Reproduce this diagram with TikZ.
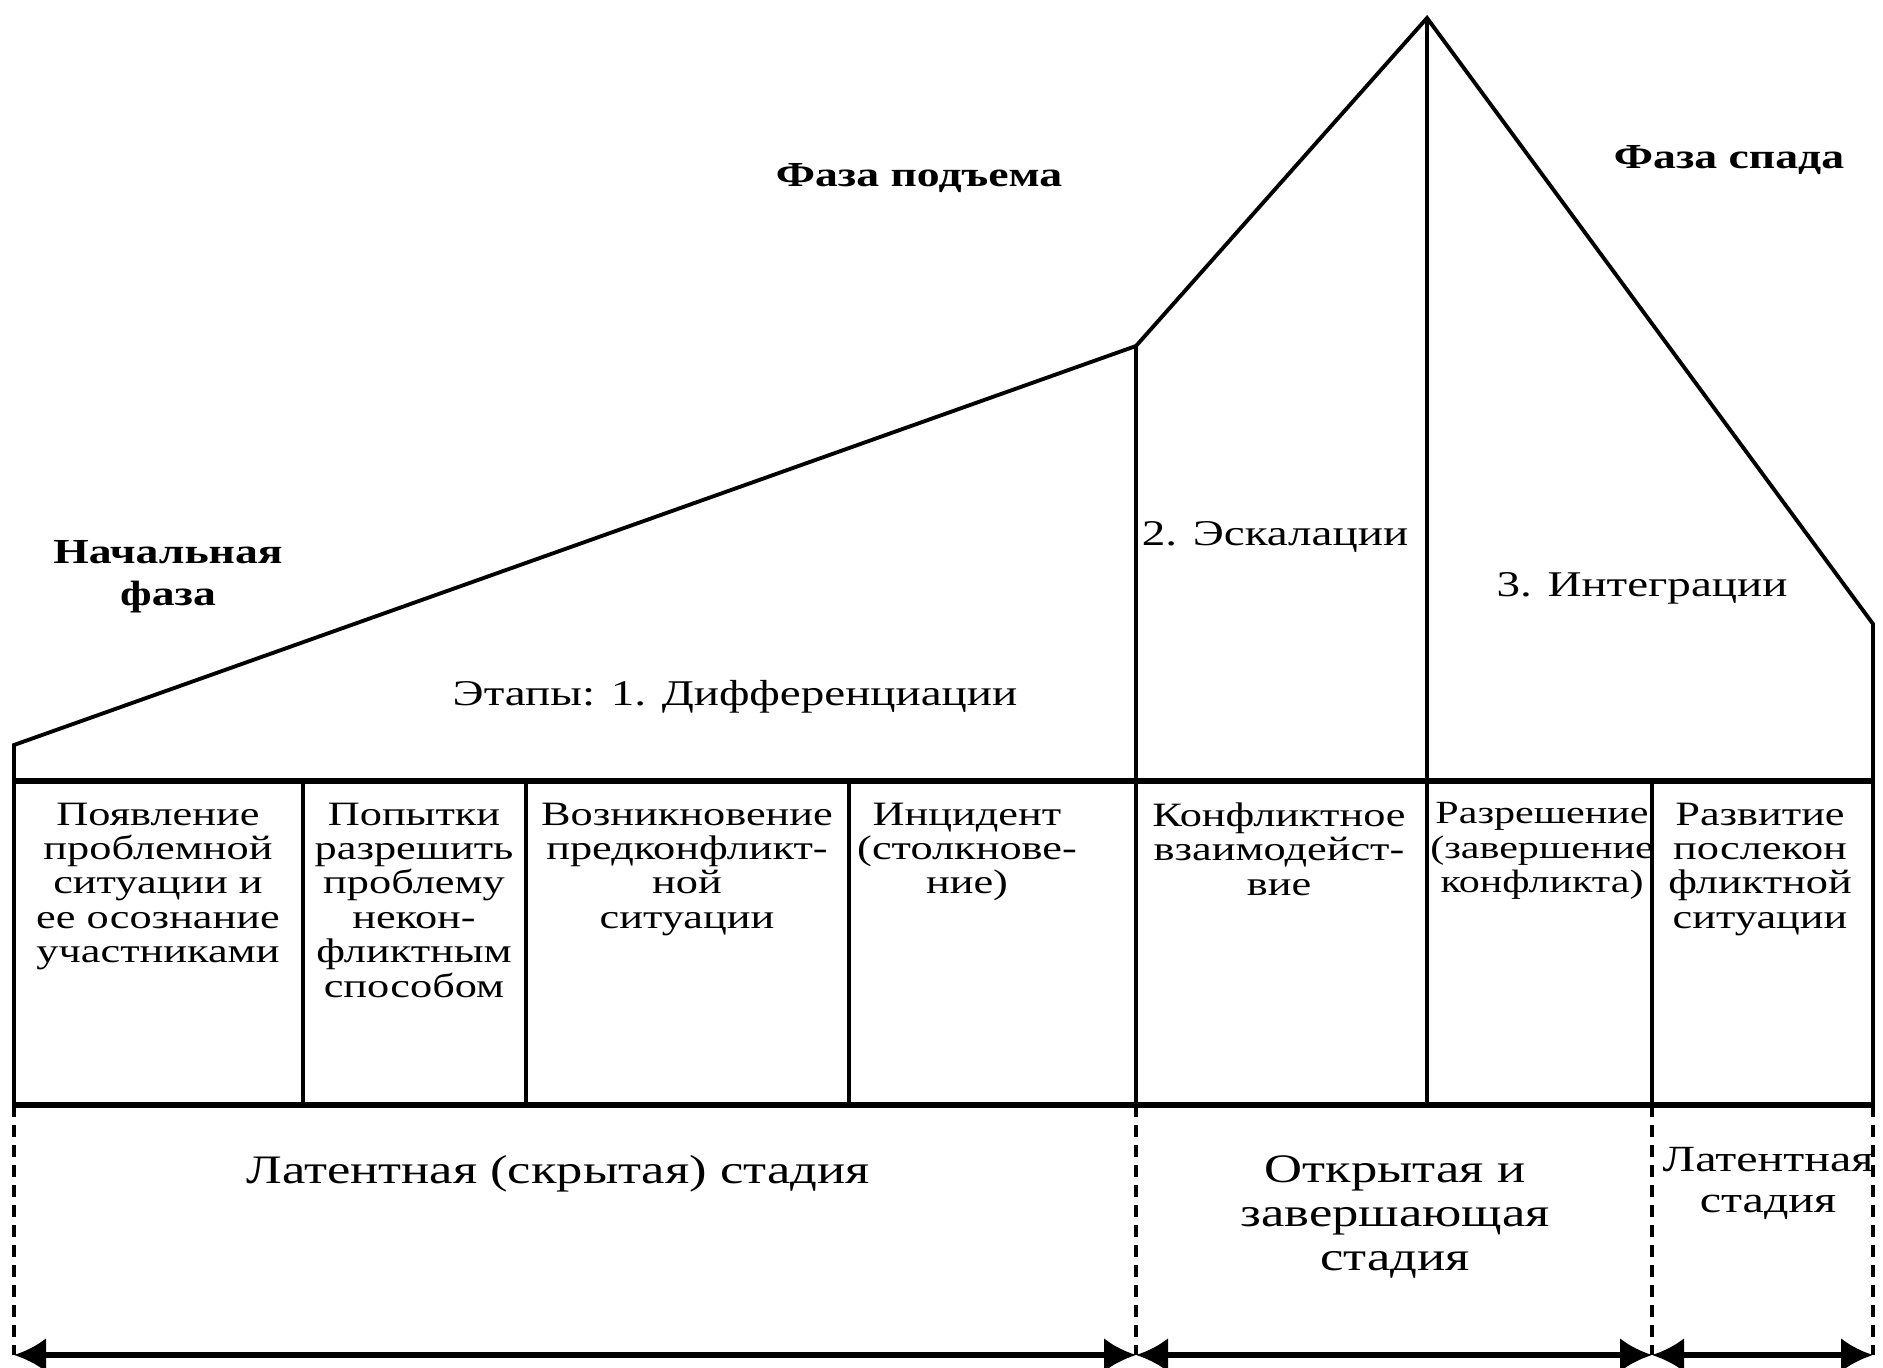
\documentclass[tikz,border=0pt]{standalone}
\usepackage{fontspec}
\setmainfont{Liberation Serif}[FakeStretch=1.3]
\usetikzlibrary{arrows.meta}
\tikzstyle{diagram} = [x = 0.01cm, y = -0.01cm]
\tikzstyle{roofLine} = [color=black, line width=1.1pt, line join=miter]
\tikzstyle{gridLine} = [color=black, line width=0.9pt]
\tikzstyle{baseLine} = [color=black, line width=1.5pt]
\tikzstyle{stageLine} = [color=black, line width=0.9pt, dash pattern=on 0.12cm off 0.08cm]
\tikzstyle{stageArrow} = [color=black, line width=1.5pt, {Latex[length=0.32cm,width=0.34cm]}-{Latex[length=0.32cm,width=0.34cm]}]
\tikzstyle{phaseText} = [font=\fontsize{10}{12}\selectfont\bfseries, align=center]
\tikzstyle{stepText} = [font=\fontsize{10.3}{12}\selectfont, align=center]
\tikzstyle{boxText} = [font=\fontsize{9.7}{9.8}\selectfont, align=center, anchor=north, inner sep=0pt]
\tikzstyle{stageText} = [font=\fontsize{11.5}{12.5}\selectfont, align=center, anchor=north, inner sep=0pt]
\newcommand{\topY}{781}
\newcommand{\bottomY}{1105}
\newcommand{\arrowY}{1355}
\newcommand{\stepBox}[3]{\node [boxText] (#1) at (#2, 802) {#3};}
\newcommand{\stageBorder}[2]{
  \coordinate (#1) at (#2, \arrowY);
  \draw [stageLine] (#2, \bottomY) -- (#1);
}

\begin{document}
\begin{tikzpicture}[diagram]
  \useasboundingbox (0,0) rectangle (1883,1368);

  % roof of the curve
  \coordinate (start) at (14,745);
  \coordinate (escalation) at (1136,346);
  \coordinate (peak) at (1427,18);
  \coordinate (fall) at (1873,624);
  \draw [roofLine] (14,\bottomY) -- (start) -- (escalation) -- (peak) -- (fall) -- (1873,\bottomY);
  \draw [gridLine] (escalation) -- (1136,\bottomY);
  \draw [gridLine] (peak) -- (1427,\bottomY);

  % table of steps
  \draw [baseLine] (14,\topY) -- (1873,\topY);
  \draw [baseLine] (14,\bottomY) -- (1873,\bottomY);
  \foreach \x in {303,526,849,1652} {
    \draw [gridLine] (\x,\topY) -- (\x,\bottomY);
  }

  \node [phaseText] (rise) at (919,178) {Фаза подъема};
  \node [phaseText] (decline) at (1729,160) {Фаза спада};
  \node [phaseText] (initial) at (168,577) {Начальная\\фаза};

  \node [stepText] (diff) at (735,697) {Этапы: 1. Дифференциации};
  \node [stepText] (escal) at (1275,537) {2. Эскалации};
  \node [stepText] (integr) at (1642,588) {3. Интеграции};

  \stepBox{problem}{158}{Появление\\проблемной\\ситуации и\\ее осознание\\участниками}
  \stepBox{attempt}{414}{Попытки\\разрешить\\проблему\\некон-\\фликтным\\способом}
  \stepBox{preconf}{687}{Возникновение\\предконфликт-\\ной\\ситуации}
  \stepBox{incident}{967}{Инцидент\\(столкнове-\\ние)}
  \stepBox{interact}{1279}{Конфликтное\\взаимодейст-\\вие}
  \node [boxText, font=\fontsize{9.2}{9.8}\selectfont] (resolve) at (1542,802) {Разрешение\\(завершение\\конфликта)};
  \stepBox{after}{1760}{Развитие\\послекон\\фликтной\\ситуации}

  % stages
  \stageBorder{s0}{14}
  \stageBorder{s1}{1136}
  \stageBorder{s2}{1652}
  \stageBorder{s3}{1873}
  \draw [stageArrow] (s0) -- (s1);
  \draw [stageArrow] (s1) -- (s2);
  \draw [stageArrow] (s2) -- (s3);

  \node [stageText] (latent) at (558,1155) {Латентная (скрытая) стадия};
  \node [stageText] (open) at (1395,1155) {Открытая и\\завершающая\\стадия};
  \node [stageText, font=\fontsize{10.5}{11.5}\selectfont] (latent2) at (1768,1147) {Латентная\\стадия};
\end{tikzpicture}
\end{document}
